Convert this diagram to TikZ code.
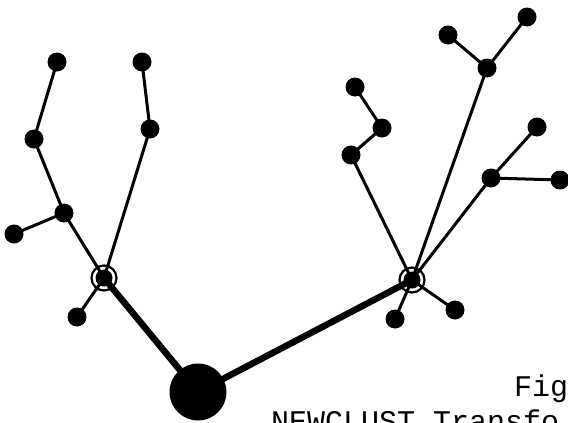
\documentclass[tikz,border=0pt]{standalone}
\usepackage{fontspec}
\newfontfamily\typew{Liberation Mono}
\begin{document}
\begin{tikzpicture}[x=1pt,y=-1pt,
  dotnode/.style={circle,fill=black,inner sep=0pt,minimum size=19pt},
  hubnode/.style={circle,fill=black,inner sep=0pt,minimum size=17pt,
    append after command={\pgfextra{\draw[line width=2.2pt] (\tikzlastnode.center) circle (12.5pt);}}},
  rootnode/.style={circle,fill=black,inner sep=0pt,minimum size=57pt},
  thin edge/.style={line width=3pt},
  thick edge/.style={line width=6.5pt},
  label text/.style={font=\typew\fontsize{30}{30}\selectfont,inner sep=0pt,anchor=base west}]
\clip (0,0) rectangle (568,423);
\fill[white] (0,0) rectangle (568,423);
% nodes
\node[rootnode] (root) at (198,392) {};
\node[hubnode] (lh) at (104,278) {};
\node[hubnode] (rh) at (412,280) {};
% left tree
\node[dotnode] (a) at (57,62) {};
\node[dotnode] (b) at (34,139) {};
\node[dotnode] (c) at (64,213) {};
\node[dotnode] (d) at (14,234) {};
\node[dotnode] (e) at (142,62) {};
\node[dotnode] (f) at (150,129) {};
\node[dotnode] (g) at (77,317) {};
% right tree
\node[dotnode] (h) at (448,35) {};
\node[dotnode] (i) at (527,17) {};
\node[dotnode] (j) at (487,68) {};
\node[dotnode] (k) at (355,87) {};
\node[dotnode] (l) at (382,128) {};
\node[dotnode] (m) at (351,155) {};
\node[dotnode] (n) at (537,127) {};
\node[dotnode] (o) at (491,178) {};
\node[dotnode] (p) at (560,180) {};
\node[dotnode] (q) at (395,319) {};
\node[dotnode] (r) at (455,310) {};
% edges
\begin{scope}[on background layer/.try]
\draw[thick edge] (lh.center) -- (root.center);
\draw[thick edge] (rh.center) -- (root.center);
\draw[thin edge] (a.center) -- (b.center) -- (c.center) -- (lh.center);
\draw[thin edge] (c.center) -- (d.center);
\draw[thin edge] (e.center) -- (f.center) -- (lh.center);
\draw[thin edge] (g.center) -- (lh.center);
\draw[thin edge] (h.center) -- (j.center) -- (rh.center);
\draw[thin edge] (i.center) -- (j.center);
\draw[thin edge] (k.center) -- (l.center) -- (m.center) -- (rh.center);
\draw[thin edge] (n.center) -- (o.center) -- (rh.center);
\draw[thin edge] (o.center) -- (p.center);
\draw[thin edge] (q.center) -- (rh.center);
\draw[thin edge] (r.center) -- (rh.center);
\end{scope}
% text
\node[label text] (fig) at (514,396) {Fig};
\node[label text] (cap) at (271,431) {NEWCLUST Transfo};
\end{tikzpicture}
\end{document}
